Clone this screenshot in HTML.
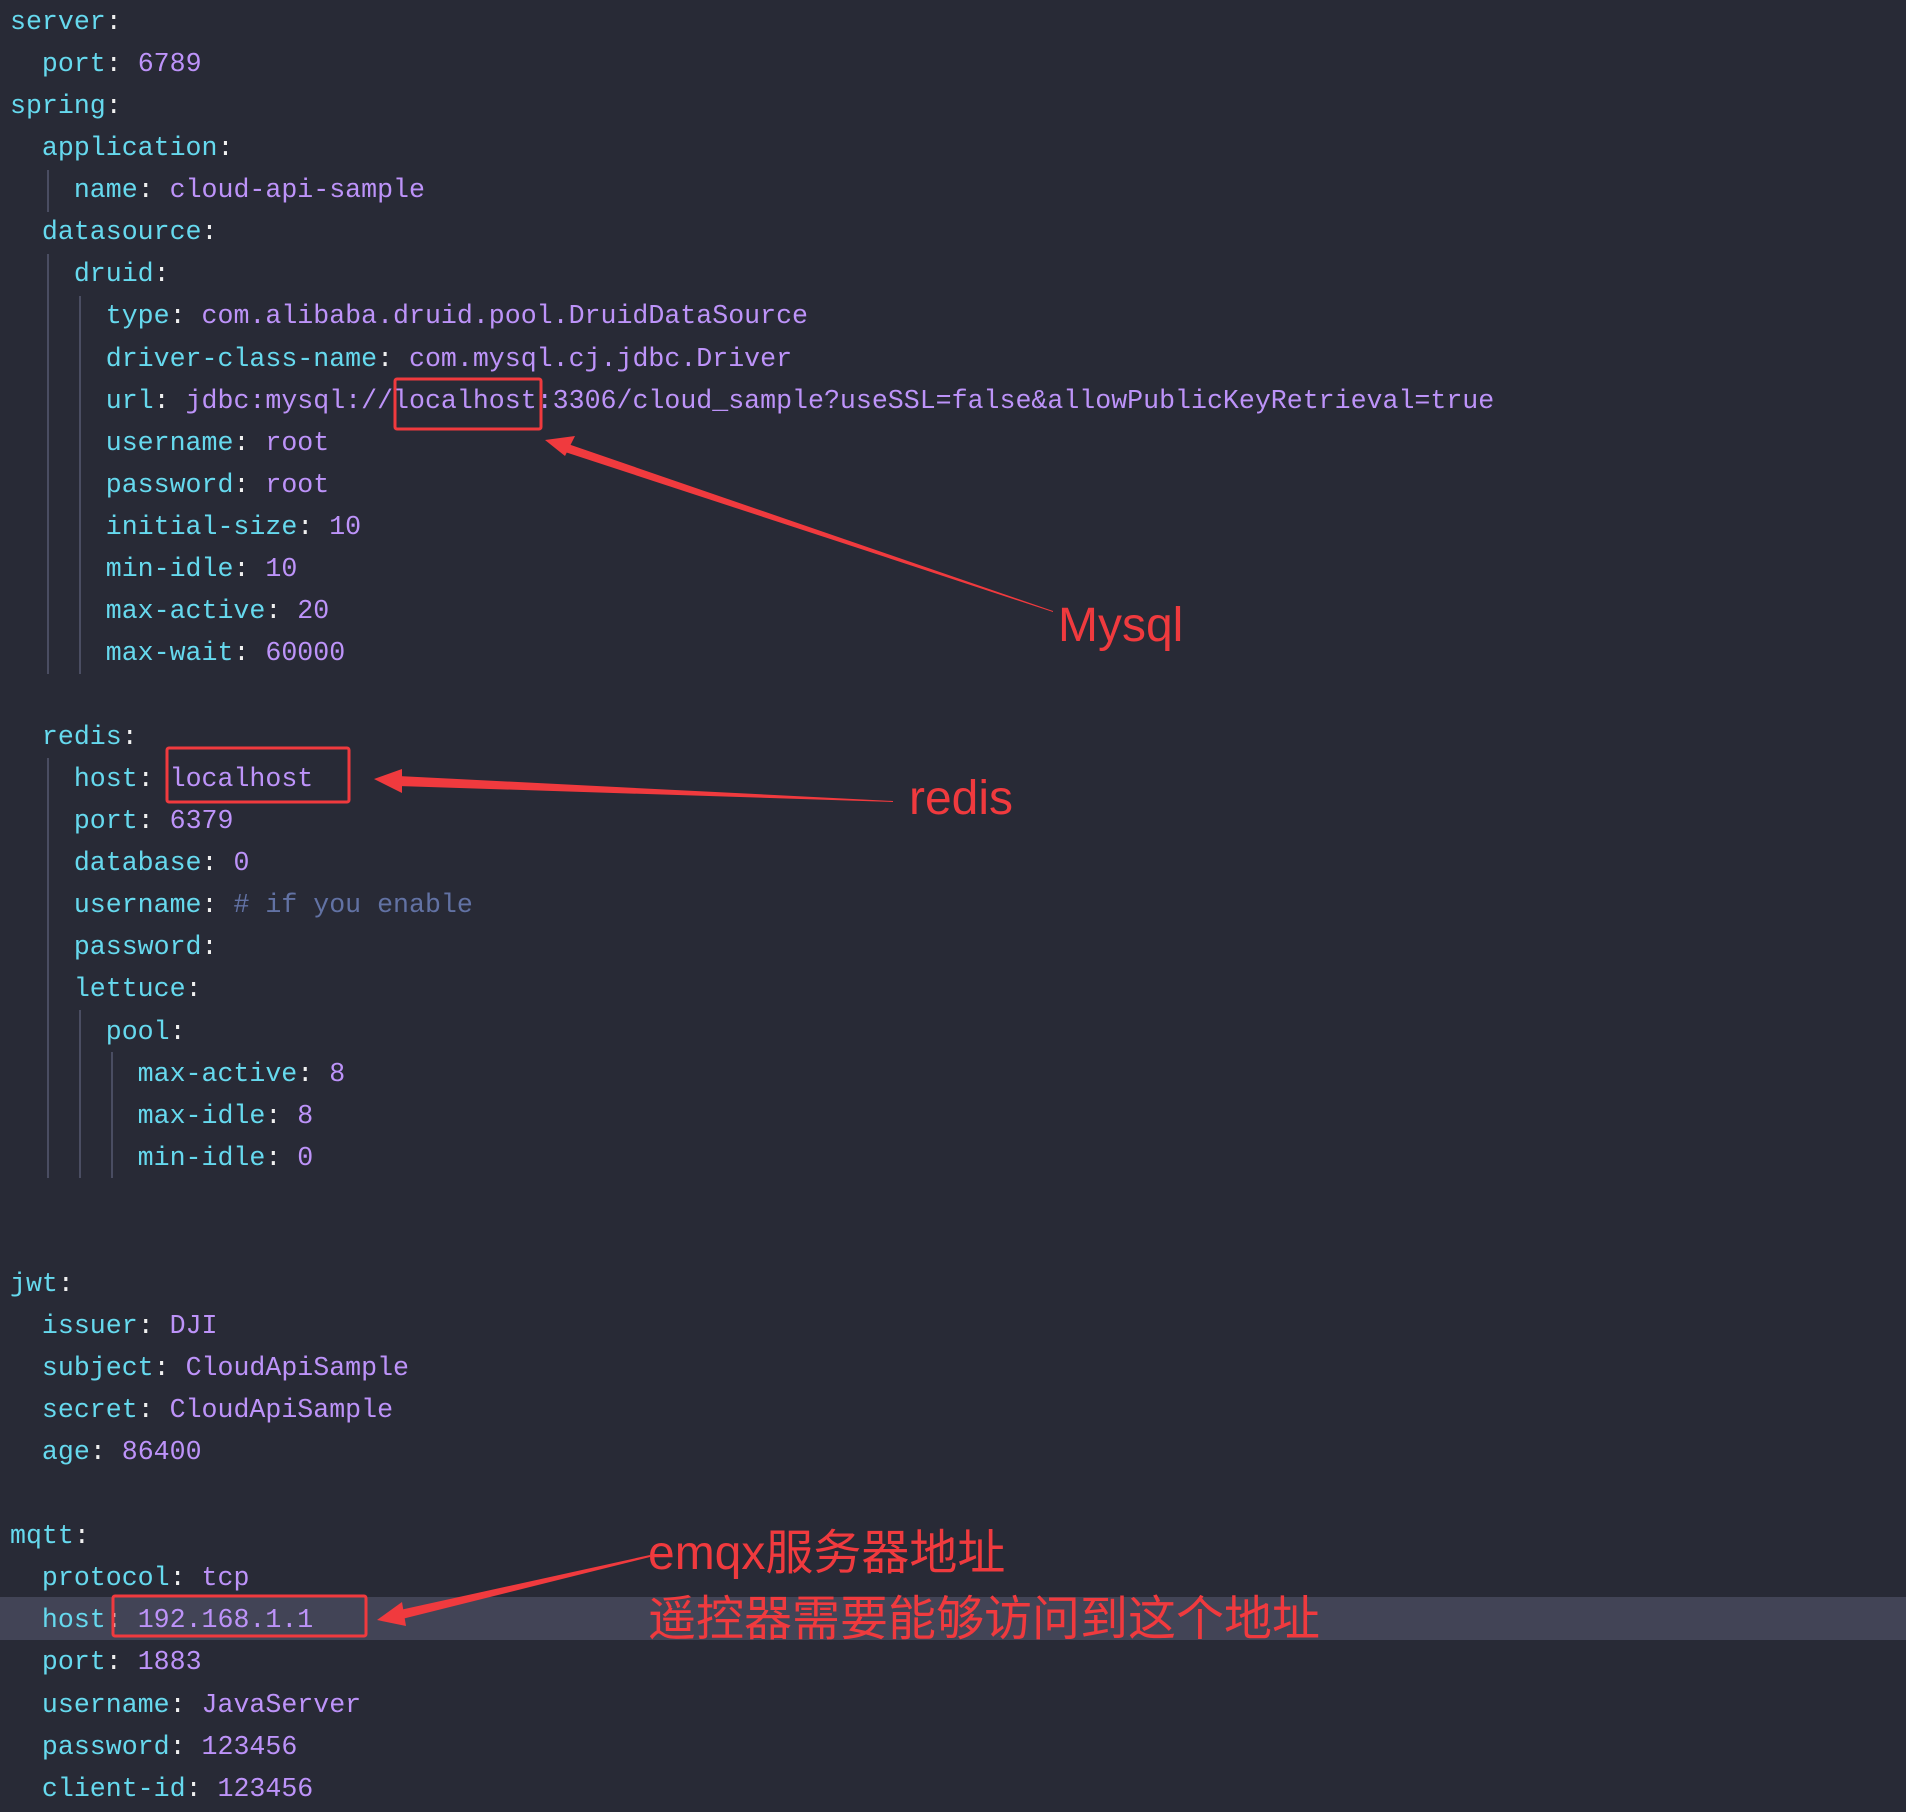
<!DOCTYPE html>
<html><head><meta charset="utf-8"><style>
html,body{margin:0;padding:0}
body{width:1906px;height:1812px;background:#282a36;position:relative;overflow:hidden}
pre{position:absolute;left:10px;top:1px;margin:0;font-family:"Liberation Mono",monospace;font-size:26.6px;line-height:42.06px;color:#fff}
.k{color:#66d9ee}.v{color:#bd93f9}.c{color:#6272a4}.p{color:#f0f0f0}
.hl{position:absolute;left:0;width:1906px;top:1597px;height:43px;background:#424456}
.g{position:absolute;width:2px;background:#4a4d62}
.t{position:absolute;color:#f03a3e;font-family:"Liberation Sans","Noto Sans CJK SC",sans-serif;font-size:48px;line-height:1;white-space:nowrap}
</style></head><body>
<div class="hl"></div>
<div class="g" style="left:47px;top:170px;height:42px"></div>
<div class="g" style="left:47px;top:254px;height:420px"></div>
<div class="g" style="left:79px;top:296px;height:378px"></div>
<div class="g" style="left:47px;top:758px;height:420px"></div>
<div class="g" style="left:79px;top:1010px;height:168px"></div>
<div class="g" style="left:111px;top:1052px;height:126px"></div>
<pre><span class="k">server</span><span class="p">:</span>
  <span class="k">port</span><span class="p">:</span> <span class="v">6789</span>
<span class="k">spring</span><span class="p">:</span>
  <span class="k">application</span><span class="p">:</span>
    <span class="k">name</span><span class="p">:</span> <span class="v">cloud-api-sample</span>
  <span class="k">datasource</span><span class="p">:</span>
    <span class="k">druid</span><span class="p">:</span>
      <span class="k">type</span><span class="p">:</span> <span class="v">com.alibaba.druid.pool.DruidDataSource</span>
      <span class="k">driver-class-name</span><span class="p">:</span> <span class="v">com.mysql.cj.jdbc.Driver</span>
      <span class="k">url</span><span class="p">:</span> <span class="v">jdbc:mysql://localhost:3306/cloud_sample?useSSL=false&amp;allowPublicKeyRetrieval=true</span>
      <span class="k">username</span><span class="p">:</span> <span class="v">root</span>
      <span class="k">password</span><span class="p">:</span> <span class="v">root</span>
      <span class="k">initial-size</span><span class="p">:</span> <span class="v">10</span>
      <span class="k">min-idle</span><span class="p">:</span> <span class="v">10</span>
      <span class="k">max-active</span><span class="p">:</span> <span class="v">20</span>
      <span class="k">max-wait</span><span class="p">:</span> <span class="v">60000</span>

  <span class="k">redis</span><span class="p">:</span>
    <span class="k">host</span><span class="p">:</span> <span class="v">localhost</span>
    <span class="k">port</span><span class="p">:</span> <span class="v">6379</span>
    <span class="k">database</span><span class="p">:</span> <span class="v">0</span>
    <span class="k">username</span><span class="p">:</span> <span class="c"># if you enable</span>
    <span class="k">password</span><span class="p">:</span>
    <span class="k">lettuce</span><span class="p">:</span>
      <span class="k">pool</span><span class="p">:</span>
        <span class="k">max-active</span><span class="p">:</span> <span class="v">8</span>
        <span class="k">max-idle</span><span class="p">:</span> <span class="v">8</span>
        <span class="k">min-idle</span><span class="p">:</span> <span class="v">0</span>


<span class="k">jwt</span><span class="p">:</span>
  <span class="k">issuer</span><span class="p">:</span> <span class="v">DJI</span>
  <span class="k">subject</span><span class="p">:</span> <span class="v">CloudApiSample</span>
  <span class="k">secret</span><span class="p">:</span> <span class="v">CloudApiSample</span>
  <span class="k">age</span><span class="p">:</span> <span class="v">86400</span>

<span class="k">mqtt</span><span class="p">:</span>
  <span class="k">protocol</span><span class="p">:</span> <span class="v">tcp</span>
  <span class="k">host</span><span class="p">:</span> <span class="v">192.168.1.1</span>
  <span class="k">port</span><span class="p">:</span> <span class="v">1883</span>
  <span class="k">username</span><span class="p">:</span> <span class="v">JavaServer</span>
  <span class="k">password</span><span class="p">:</span> <span class="v">123456</span>
  <span class="k">client-id</span><span class="p">:</span> <span class="v">123456</span></pre>
<svg width="1906" height="1812" style="position:absolute;left:0;top:0">
<g fill="none" stroke="#f03a3e" stroke-width="3">
<rect x="395" y="379" width="146" height="50" rx="2"/>
<rect x="167" y="748" width="182" height="54" rx="2"/>
<rect x="113" y="1596" width="253" height="40" rx="2"/>
</g>
<g fill="#f03a3e">
<polygon points="1053,611 568,444 565,452 1053,612"/>
<polygon points="545,440 575,436 565,456"/>
<polygon points="893,801 398,776 398,786 893,802"/>
<polygon points="374,779 402,769 402,793"/>
<polygon points="650,1555 400,1610 402,1619 650,1557"/>
<polygon points="377,1620 402,1602 406,1626"/>
</g>
</svg>
<div class="t" style="left:1058px;top:602px">Mysql</div>
<div class="t" style="left:909px;top:775px">redis</div>
<div class="t" style="left:648px;top:1530px">emqx服务器地址</div>
<div class="t" style="left:648px;top:1596px">遥控器需要能够访问到这个地址</div>
</body></html>
